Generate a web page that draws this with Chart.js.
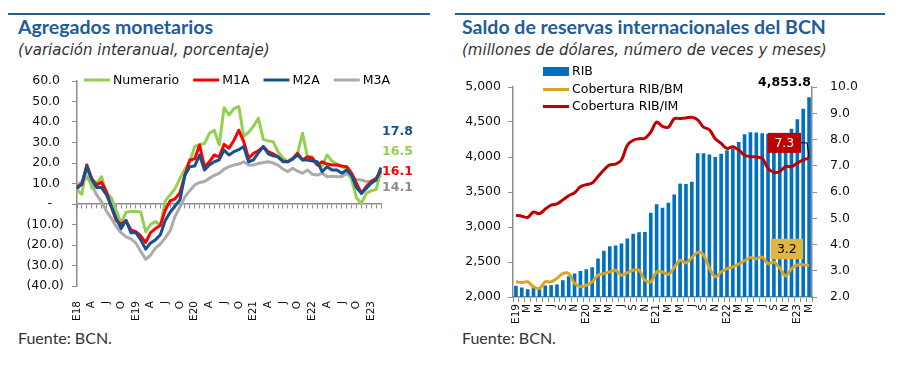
<!DOCTYPE html>
<html><head><meta charset="utf-8">
<script src="https://cdn.jsdelivr.net/npm/chart.js@4"></script>
<style>
body{margin:0;background:#fff;width:898px;height:386px;overflow:hidden;position:relative;font-family:Lato,"Open Sans",sans-serif}
.rule{position:absolute;top:13px;height:2px;background:#2A5F92}
.title{position:absolute;top:15px;font-size:19.5px;font-weight:700;color:#1F5C99;white-space:nowrap}
.sub{position:absolute;top:41px;font-family:"DejaVu Sans";font-size:15px;font-style:italic;color:#333;white-space:nowrap}
.src{position:absolute;top:328px;font-size:16px;color:#333;white-space:nowrap}
canvas{position:absolute}
</style></head>
<body>
<div class="rule" style="left:8px;width:422px"></div>
<div class="rule" style="left:455px;width:430px"></div>
<div class="title" style="left:18px">Agregados monetarios</div>
<div class="sub" style="left:18px">(variación interanual, porcentaje)</div>
<div class="title" style="left:462px">Saldo de reservas internacionales del BCN</div>
<div class="sub" style="left:462px">(millones de dólares, número de veces y meses)</div>
<div class="src" style="left:18px">Fuente: BCN.</div>
<div class="src" style="left:462px">Fuente: BCN.</div>
<canvas id="c1" width="440" height="290" style="left:0;top:60px"></canvas>
<canvas id="c2" width="448" height="290" style="left:450px;top:60px"></canvas>
<script>
// ---------- Left chart data (ene-2018 .. mar-2023) ----------
const leftTickLabels = [
 'E18','','','A','','','J','','','O','','',
 'E19','','','A','','','J','','','O','','',
 'E20','','','A','','','J','','','O','','',
 'E21','','','A','','','J','','','O','','',
 'E22','','','A','','','J','','','O','','',
 'E23','',''];
const numerario = [6.8,4.7,19.0,7.8,10.0,13.3,5.4,3.0,-3.0,-9.5,
  -4.0,-3.7,-3.7,-3.8,-13.5,-10.0,-8.5,-10.5,1.5,4.5,
  7.5,12.5,17.0,20.6,28.0,29.0,29.5,34.5,36.0,28.8,
  47.0,43.4,46.5,47.5,33.0,35.0,38.0,41.8,31.5,30.8,
  30.4,25.5,22.5,20.6,22.5,25.0,34.5,23.0,23.0,19.5,
  18.5,23.9,21.0,19.5,18.2,17.0,12.0,3.0,0.3,5.2,
  6.5,7.0,16.5];
const m1a = [8.5,9.5,19.0,12.5,9.3,10.6,6.0,-1.5,-8.0,-9.8,
  -8.2,-12.7,-13.5,-15.5,-18.8,-14.0,-12.0,-10.5,-3.0,1.5,
  2.5,5.5,14.0,21.5,22.0,28.8,18.2,20.6,23.9,23.0,
  29.1,27.2,31.0,36.0,30.4,22.3,24.7,26.0,28.0,25.5,
  24.5,23.0,21.0,20.6,22.0,24.7,21.5,23.0,22.3,19.0,
  20.6,19.5,19.0,19.0,18.5,18.2,15.0,10.0,5.2,8.5,
  11.0,12.5,16.1];
const m2a = [7.5,10.0,18.5,12.0,8.0,8.0,4.5,-1.0,-7.0,-12.0,
  -8.0,-14.0,-14.0,-17.5,-22.0,-19.0,-17.5,-15.0,-8.0,-4.0,
  -1.0,2.0,14.0,18.2,18.5,23.9,16.6,19.0,20.6,21.5,
  26.3,23.9,25.5,26.5,28.0,20.6,21.5,25.0,28.0,24.5,
  23.5,23.0,20.6,20.6,22.0,23.9,21.5,21.5,21.0,20.6,
  15.8,18.2,16.6,16.6,15.0,16.6,14.0,8.0,5.2,7.6,
  10.1,11.7,17.8];
const m3a = [9.3,10.9,13.3,9.3,4.4,1.1,-3.5,-7.0,-11.0,-14.0,
  -16.0,-17.0,-19.0,-23.0,-27.0,-25.0,-21.5,-19.5,-16.5,-13.0,
  -6.0,-1.5,3.5,6.5,9.3,10.5,11.0,12.5,14.0,15.0,
  17.0,18.2,19.0,19.5,20.6,19.0,19.0,19.8,20.2,20.6,
  20.0,19.0,17.0,15.8,17.4,16.0,15.0,16.6,14.5,14.1,
  15.0,13.3,13.5,13.3,13.3,15.0,12.5,12.0,11.7,10.9,
  11.2,11.7,14.1];

// ---------- Right chart data (ene-2019 .. mar-2023) ----------
const rightTickLabels = [
 'E19','','M','','M','','J','','S','','N','',
 'E20','','M','','M','','J','','S','','N','',
 'E21','','M','','M','','J','','S','','N','',
 'E22','','M','','M','','J','','S','','N','',
 'E23','','M'];
const rib = [2160,2135,2110,2150,2110,2165,2170,2180,2240,2295,2335,2370,2395,2425,2550,2660,2725,2735,2765,2835,2905,2925,2930,3205,3325,3275,3345,3465,3620,3615,3645,4055,4055,4035,4000,4045,4095,4120,4215,4325,4355,4350,4340,4330,4310,4280,4300,4405,4540,4690,4853.8];
const ribBM = [2.58,2.55,2.58,2.39,2.33,2.58,2.58,2.71,2.89,2.89,2.52,2.39,2.45,2.58,2.83,2.89,2.96,3.02,2.83,2.93,3.02,3.02,2.64,2.58,2.96,2.95,2.86,3.12,3.40,3.30,3.50,3.70,3.60,3.10,2.77,2.95,3.08,3.15,3.25,3.38,3.50,3.46,3.52,3.27,3.33,3.10,2.80,3.08,3.22,3.23,3.2];
const ribIM = [5.11,5.08,5.03,5.24,5.17,5.35,5.50,5.55,5.70,5.86,5.97,6.20,6.28,6.34,6.59,6.84,7.03,7.06,7.22,7.78,7.97,8.03,8.05,8.28,8.66,8.50,8.47,8.79,8.80,8.82,8.85,8.75,8.47,8.37,8.03,7.85,7.66,7.72,7.60,7.40,7.35,7.33,7.28,6.90,6.75,6.78,6.97,6.97,7.10,7.22,7.3];

const AX = '#8C8C8C';
const TICKFONT = {family:'DejaVu Sans', size:12.5};
const XFONT = {family:'DejaVu Sans', size:10.5};

function drawLegendItem(ctx, x, y, color, text, box){
  ctx.save();
  if (box){ ctx.fillStyle=color; ctx.fillRect(x, y-4.5, 26, 9); }
  else { ctx.strokeStyle=color; ctx.lineWidth=3; ctx.beginPath(); ctx.moveTo(x,y); ctx.lineTo(x+26,y); ctx.stroke(); }
  ctx.fillStyle='#000'; ctx.font='12.5px "DejaVu Sans"'; ctx.textBaseline='middle'; ctx.textAlign='left';
  ctx.fillText(text, x+29, y+0.5);
  const w = ctx.measureText(text).width;
  ctx.restore();
  return x + 29 + w;
}

const leftOverlay = {
  id:'leftOverlay',
  afterDatasetsDraw(chart){
    const ctx = chart.ctx, ca = chart.chartArea;
    let x = ca.left + 7;
    [0,1,2,3].forEach(i=>{
      const ds = chart.data.datasets[i];
      x = drawLegendItem(ctx, x, ca.top - 1, ds.borderColor, ds.label, false) + 14;
    });
    const items = [[2,51],[0,71],[1,91],[3,107]];
    ctx.save();
    ctx.font = 'bold 12.5px "DejaVu Sans"'; ctx.textBaseline='middle'; ctx.textAlign='left';
    items.forEach(([i,dy])=>{
      const ds = chart.data.datasets[i];
      ctx.fillStyle = ds.endColor || ds.borderColor;
      ctx.fillText(ds.data[ds.data.length-1].toFixed(1), ca.right + 1, ca.top + dy);
    });
    ctx.restore();
  }
};

new Chart(document.getElementById('c1'), {
  type:'line',
  data:{labels:leftTickLabels, datasets:[
    {label:'Numerario', data:numerario, borderColor:'#92D050', order:3},
    {label:'M1A', data:m1a, borderColor:'#FF0000', order:2},
    {label:'M2A', data:m2a, borderColor:'#17508E', order:1},
    {label:'M3A', data:m3a, borderColor:'#ABABAB', endColor:'#8C8C8C', order:4}
  ]},
  options:{
    responsive:false, animation:false,
    layout:{padding:{top:21,right:59,left:0,bottom:0}},
    elements:{point:{radius:0}, line:{borderWidth:3, tension:0, borderJoinStyle:'round'}},
    plugins:{legend:{display:false}, tooltip:{enabled:false}},
    scales:{
      x:{type:'category', position:{y:0}, offset:false,
         grid:{drawOnChartArea:false, drawTicks:true, tickLength:4, color:AX},
         border:{display:true, color:AX, width:1.5}, ticks:{display:false}},
      x2:{type:'category', axis:'x', position:'bottom', offset:false,
         grid:{display:false}, border:{display:false},
         ticks:{autoSkip:false, maxRotation:90, minRotation:90, padding:7, font:XFONT, color:'#111'},
         afterFit(s){ s.height = 64; }},
      y:{min:-40, max:60,
         ticks:{stepSize:10, padding:8, font:TICKFONT, color:'#111',
           callback:v => v===0 ? '-   ' : (v<0 ? '('+Math.abs(v).toFixed(1)+')' : v.toFixed(1)+' ')},
         grid:{drawOnChartArea:false, tickLength:5, color:AX},
         border:{color:AX, width:1.5},
         afterFit(s){ s.width = 77; }}
    }
  },
  plugins:[leftOverlay]
});

const rightOverlay = {
  id:'rightOverlay',
  afterDatasetsDraw(chart){
    const ctx = chart.ctx;
    const ds = chart.data.datasets;
    const lx = 93;
    drawLegendItem(ctx, lx, 11.5, ds[0].backgroundColor, ds[0].label, true);
    drawLegendItem(ctx, lx, 29.5, ds[1].borderColor, ds[1].label, false);
    drawLegendItem(ctx, lx, 46.5, ds[2].borderColor, ds[2].label, false);
    ctx.save();
    const bars = chart.getDatasetMeta(0).data;
    const lb = bars[bars.length-1];
    const lastRib = ds[0].data[ds[0].data.length-1];
    ctx.font='bold 12.5px "DejaVu Sans"'; ctx.fillStyle='#000'; ctx.textAlign='right'; ctx.textBaseline='middle';
    ctx.fillText(lastRib.toLocaleString('en-US',{minimumFractionDigits:1,maximumFractionDigits:1}), lb.x + 2, lb.y - 14);
    const rp = chart.getDatasetMeta(2).data; const r = rp[rp.length-1];
    const rv = ds[2].data[ds[2].data.length-1];
    let bw = 33.5, bh = 20, br = r.x - 8, bc = r.y - 15;
    ctx.strokeStyle='#000'; ctx.lineWidth=1;
    ctx.beginPath(); ctx.moveTo(br, bc); ctx.lineTo(r.x-2, bc); ctx.lineTo(r.x, r.y-1); ctx.stroke();
    ctx.fillStyle='#C00000'; ctx.fillRect(br-bw, bc-bh/2, bw, bh);
    ctx.font='12.5px "DejaVu Sans"'; ctx.fillStyle='#fff'; ctx.textAlign='center';
    ctx.fillText(rv.toFixed(1), br-bw/2, bc+0.5);
    const gp = chart.getDatasetMeta(1).data; const g = gp[gp.length-1];
    const gv = ds[1].data[ds[1].data.length-1];
    br = g.x - 6; bc = g.y - 16.5; bw = 32.5; bh = 20.5;
    ctx.fillStyle='#DFB640'; ctx.fillRect(br-bw, bc-bh/2, bw, bh);
    ctx.fillStyle='#000';
    ctx.fillText(gv.toFixed(1), br-bw/2, bc+0.5);
    ctx.restore();
  }
};

new Chart(document.getElementById('c2'), {
  type:'bar',
  data:{labels:rightTickLabels, datasets:[
    {type:'bar', label:'RIB', data:rib, backgroundColor:'#0070C0', yAxisID:'y', order:3, barPercentage:0.62, categoryPercentage:1},
    {type:'line', label:'Cobertura RIB/BM', data:ribBM, borderColor:'#D9A521', yAxisID:'y2', order:2},
    {type:'line', label:'Cobertura RIB/IM', data:ribIM, borderColor:'#C00000', yAxisID:'y2', order:1}
  ]},
  options:{
    responsive:false, animation:false,
    layout:{padding:{top:27,right:0,left:0,bottom:0}},
    elements:{point:{radius:0}, line:{borderWidth:3, tension:0.35, borderJoinStyle:'round'}},
    plugins:{legend:{display:false}, tooltip:{enabled:false}},
    scales:{
      x:{offset:true,
         grid:{drawOnChartArea:false, tickLength:5, color:AX},
         border:{color:AX, width:1.5},
         ticks:{autoSkip:false, maxRotation:90, minRotation:90, padding:2, font:XFONT, color:'#111'},
         afterFit(s){ s.height = 53; }},
      y:{min:2000, max:5000,
         ticks:{stepSize:500, padding:7, font:TICKFONT, color:'#111', callback:v=>v.toLocaleString('en-US')},
         grid:{drawOnChartArea:false, tickLength:5, color:AX},
         border:{color:AX, width:1.5},
         afterFit(s){ s.width = 63; }},
      y2:{position:'right', min:2, max:10,
         ticks:{stepSize:1, padding:13, font:TICKFONT, color:'#111', callback:v=>v.toFixed(1)},
         grid:{drawOnChartArea:false, tickLength:5, color:AX},
         border:{color:AX, width:1.5},
         afterFit(s){ s.width = 86; }}
    }
  },
  plugins:[rightOverlay]
});
</script>
</body></html>
